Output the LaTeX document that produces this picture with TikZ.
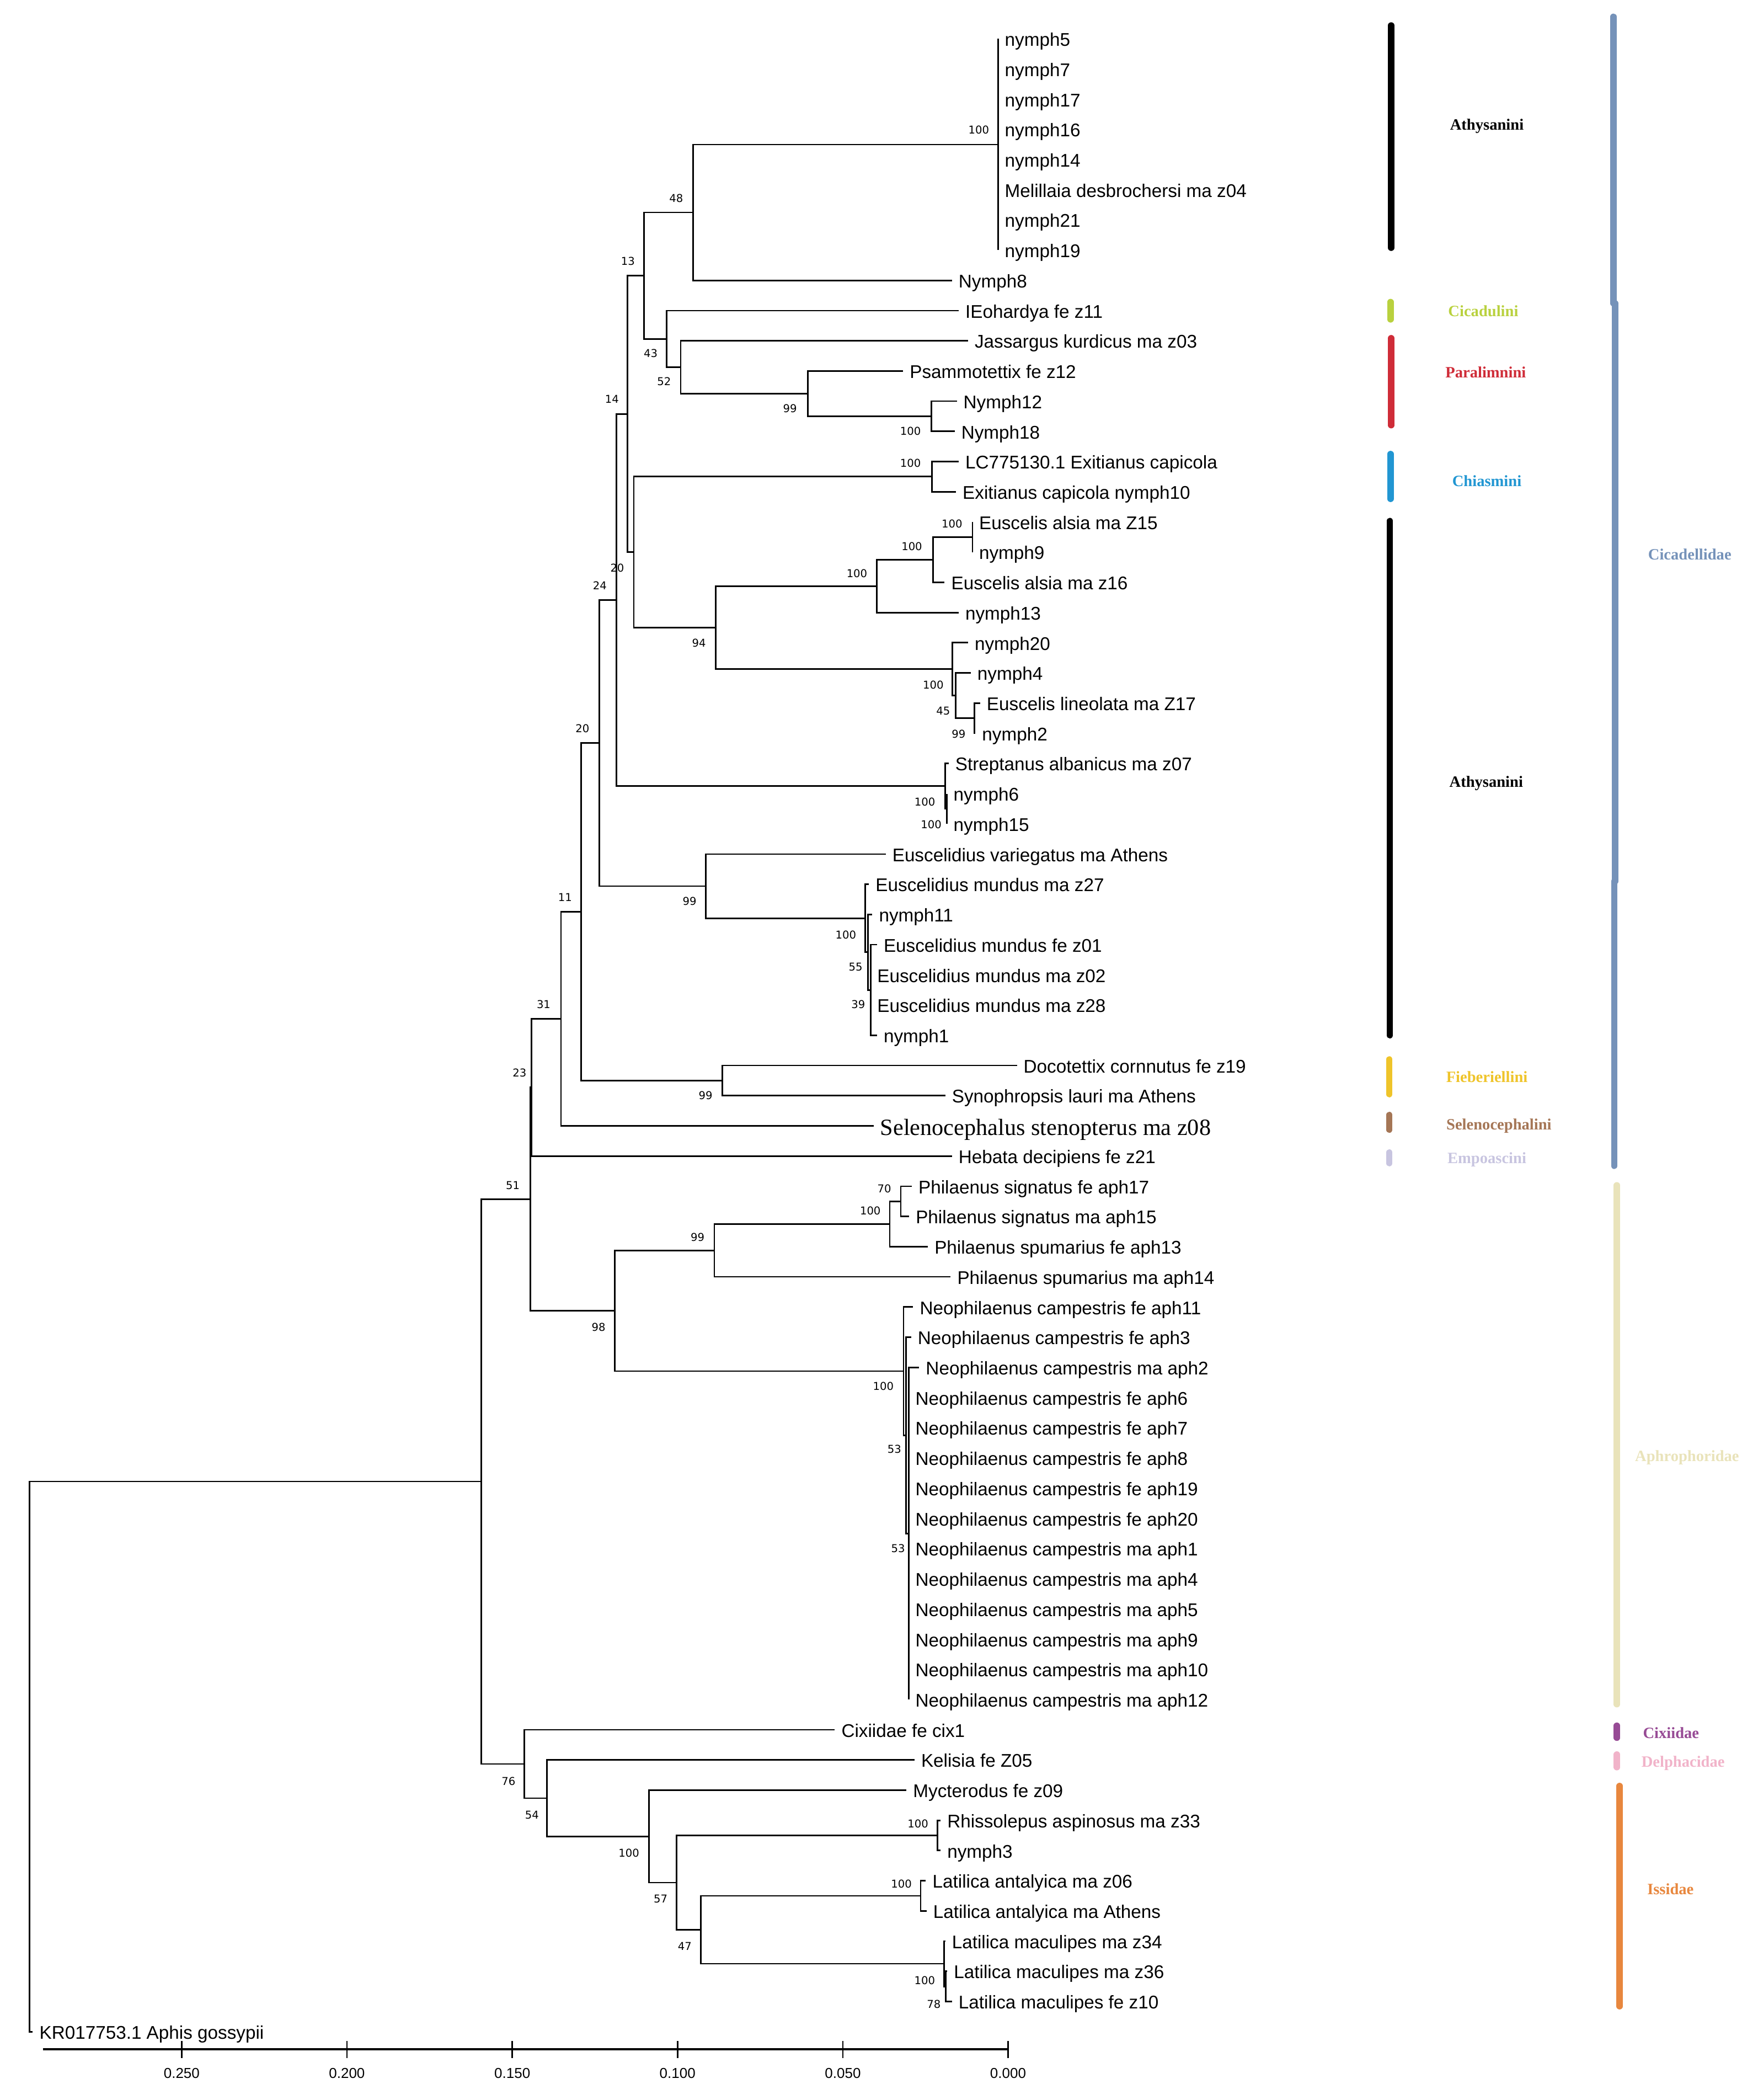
\documentclass[tikz,border=0pt]{standalone}
\usepackage{fontspec}
\setmainfont{Liberation Sans}
\newfontfamily\timesface{Liberation Serif}
\newfontfamily\megaface{DejaVu Sans}
\usepackage{tikz}

\definecolor{cicadulinicol}{HTML}{B9D13E}
\definecolor{paralimninicol}{HTML}{CF2C38}
\definecolor{chiasminicol}{HTML}{2196D2}
\definecolor{fiebericol}{HTML}{EFC42A}
\definecolor{selenocol}{HTML}{A57656}
\definecolor{empoascol}{HTML}{C8C5E0}
\definecolor{cicadellcol}{HTML}{7592B9}
\definecolor{aphrocol}{HTML}{E9E3BA}
\definecolor{cixiicol}{HTML}{974B95}
\definecolor{delphcol}{HTML}{F1B3C9}
\definecolor{issicol}{HTML}{E8873E}

\tikzstyle{leaf} = [anchor=west, inner xsep=0.1cm, inner ysep=0pt, outer sep=0pt, text height=6.7pt, text depth=0.5pt, font=\fontsize{7.8pt}{9pt}\selectfont]
\tikzstyle{bigleaf} = [leaf, text height=8.5pt, text depth=0.6pt, font=\timesface\fontsize{9.9pt}{11pt}\selectfont]
\tikzstyle{boot} = [inner sep=0pt, font=\megaface\fontsize{4.6pt}{5pt}\selectfont]
\tikzstyle{branch} = [line width=0.65pt]
\tikzstyle{scaleline} = [line width=0.95pt]
\tikzstyle{scaletick} = [line width=0.6pt]
\tikzstyle{ticklabel} = [inner sep=0pt, font=\fontsize{6.1pt}{7pt}\selectfont]
\tikzstyle{bar} = [line width=2.7pt, line cap=round]
\tikzstyle{taxon} = [inner sep=0pt, font=\timesface\bfseries\fontsize{6.7pt}{8pt}\selectfont]

\begin{document}
\begin{tikzpicture}[x=0.02cm, y=-0.02cm]

    \useasboundingbox (0,0) rectangle (1301,1568);

    % Internal nodes
    \coordinate (root) at (22,1311.6);
    \coordinate (ingroup) at (359.5,1106.2);
    \coordinate (n51) at (396,895.33);
    \coordinate (n23) at (397,811.95);
    \coordinate (n31) at (419,760.73);
    \coordinate (n11) at (434,680.83);
    \coordinate (n20b) at (447.6,554.85);
    \coordinate (n24) at (460.5,448.02);
    \coordinate (n14) at (468.7,309.05);
    \coordinate (n13) at (481,205.84);
    \coordinate (n48) at (517.5,158.64);
    \coordinate (n100a) at (745.5,107.91);
    \coordinate (n43) at (498,253.05);
    \coordinate (n52) at (508.4,274.18);
    \coordinate (n99a) at (603.3,293.91);
    \coordinate (n100b) at (695.5,310.82);
    \coordinate (n20a) at (473.4,412.27);
    \coordinate (n100c) at (696,355.9);
    \coordinate (n94) at (534.5,468.63);
    \coordinate (n100g) at (654.8,437.63);
    \coordinate (n100f) at (697,417.9);
    \coordinate (n100e) at (726.3,400.99);
    \coordinate (n100h) at (711.4,499.63);
    \coordinate (n45) at (713.7,519.36);
    \coordinate (n99b) at (727.8,536.27);
    \coordinate (n100i) at (706,586.99);
    \coordinate (n100j) at (707.2,603.9);
    \coordinate (n99c) at (527,661.67);
    \coordinate (n100k) at (646.1,685.63);
    \coordinate (n55) at (648.2,710.99);
    \coordinate (n39) at (650.2,739.17);
    \coordinate (n99d) at (539.5,806.81);
    \coordinate (n98) at (459,978.72);
    \coordinate (n99e) at (533.5,933.63);
    \coordinate (n100l) at (664.5,913.9);
    \coordinate (n70) at (672.8,896.99);
    \coordinate (n100m) at (674.8,1023.8);
    \coordinate (n53a) at (676.6,1071.71);
    \coordinate (n53b) at (678.7,1144.98);
    \coordinate (n76) at (391.6,1317.06);
    \coordinate (n54) at (408.5,1342.6);
    \coordinate (n100n) at (484.7,1371.14);
    \coordinate (n57) at (505.4,1405.66);
    \coordinate (n47) at (523.4,1440.89);
    \coordinate (n100o) at (700.1,1370.43);
    \coordinate (n100p) at (687.6,1415.52);
    \coordinate (n100q) at (705.1,1466.25);
    \coordinate (n78) at (706.4,1483.16);

    % Leaves
    \node (nymph5) [leaf] at (745.5,29.00) {nymph5};
    \node (nymph7) [leaf] at (745.5,51.55) {nymph7};
    \node (nymph17) [leaf] at (745.5,74.09) {nymph17};
    \node (nymph16) [leaf] at (745.5,96.64) {nymph16};
    \node (nymph14) [leaf] at (745.5,119.18) {nymph14};
    \node (melillaia) [leaf] at (745.5,141.73) {Melillaia desbrochersi ma z04};
    \node (nymph21) [leaf] at (745.5,164.27) {nymph21};
    \node (nymph19) [leaf] at (745.5,186.82) {nymph19};
    \node (nymph8) [leaf] at (711,209.36) {Nymph8};
    \node (eohardya) [leaf] at (716,231.91) {IEohardya fe z11};
    \node (jassargus) [leaf] at (723,254.45) {Jassargus kurdicus ma z03};
    \node (psammotettix) [leaf] at (674.5,277.00) {Psammotettix fe z12};
    \node (nymph12) [leaf] at (714.6,299.54) {Nymph12};
    \node (nymph18) [leaf] at (713,322.09) {Nymph18};
    \node (lc775) [leaf] at (716,344.63) {LC775130.1 Exitianus capicola};
    \node (exitianus) [leaf] at (714,367.18) {Exitianus capicola nymph10};
    \node (alsiaZ15) [leaf] at (726.3,389.72) {Euscelis alsia ma Z15};
    \node (nymph9) [leaf] at (726.3,412.27) {nymph9};
    \node (alsiaz16) [leaf] at (705.5,434.81) {Euscelis alsia ma z16};
    \node (nymph13) [leaf] at (716,457.36) {nymph13};
    \node (nymph20) [leaf] at (723,479.90) {nymph20};
    \node (nymph4) [leaf] at (725,502.45) {nymph4};
    \node (lineolata) [leaf] at (732,524.99) {Euscelis lineolata ma Z17};
    \node (nymph2) [leaf] at (728.5,547.54) {nymph2};
    \node (streptanus) [leaf] at (708.5,570.08) {Streptanus albanicus ma z07};
    \node (nymph6) [leaf] at (707.2,592.63) {nymph6};
    \node (nymph15) [leaf] at (707.2,615.17) {nymph15};
    \node (variegatus) [leaf] at (661.5,637.72) {Euscelidius variegatus ma Athens};
    \node (mundus27) [leaf] at (649,660.26) {Euscelidius mundus ma z27};
    \node (nymph11) [leaf] at (651.5,682.81) {nymph11};
    \node (mundus01) [leaf] at (655,705.35) {Euscelidius mundus fe z01};
    \node (mundus02) [leaf] at (650.2,727.90) {Euscelidius mundus ma z02};
    \node (mundus28) [leaf] at (650.2,750.44) {Euscelidius mundus ma z28};
    \node (nymph1) [leaf] at (655,772.99) {nymph1};
    \node (docotettix) [leaf] at (759.5,795.53) {Docotettix cornnutus fe z19};
    \node (synophropsis) [leaf] at (706,818.08) {Synophropsis lauri ma Athens};
    \node (seleno) [bigleaf] at (652.5,840.62) {Selenocephalus stenopterus ma z08};
    \node (hebata) [leaf] at (711,863.17) {Hebata decipiens fe z21};
    \node (aph17) [leaf] at (681,885.71) {Philaenus signatus fe aph17};
    \node (aph15) [leaf] at (679,908.26) {Philaenus signatus ma aph15};
    \node (aph13) [leaf] at (693,930.80) {Philaenus spumarius fe aph13};
    \node (aph14) [leaf] at (710,953.35) {Philaenus spumarius ma aph14};
    \node (aph11) [leaf] at (682,975.89) {Neophilaenus campestris fe aph11};
    \node (aph3) [leaf] at (680.5,998.44) {Neophilaenus campestris fe aph3};
    \node (aph2) [leaf] at (686.5,1020.98) {Neophilaenus campestris ma aph2};
    \node (aph6) [leaf] at (678.7,1043.53) {Neophilaenus campestris fe aph6};
    \node (aph7) [leaf] at (678.7,1066.07) {Neophilaenus campestris fe aph7};
    \node (aph8) [leaf] at (678.7,1088.62) {Neophilaenus campestris fe aph8};
    \node (aph19) [leaf] at (678.7,1111.16) {Neophilaenus campestris fe aph19};
    \node (aph20) [leaf] at (678.7,1133.71) {Neophilaenus campestris fe aph20};
    \node (aph1) [leaf] at (678.7,1156.25) {Neophilaenus campestris ma aph1};
    \node (aph4) [leaf] at (678.7,1178.80) {Neophilaenus campestris ma aph4};
    \node (aph5) [leaf] at (678.7,1201.34) {Neophilaenus campestris ma aph5};
    \node (aph9) [leaf] at (678.7,1223.89) {Neophilaenus campestris ma aph9};
    \node (aph10) [leaf] at (678.7,1246.43) {Neophilaenus campestris ma aph10};
    \node (aph12) [leaf] at (678.7,1268.98) {Neophilaenus campestris ma aph12};
    \node (cixiidae) [leaf] at (623.5,1291.52) {Cixiidae fe cix1};
    \node (kelisia) [leaf] at (683,1314.07) {Kelisia fe Z05};
    \node (mycterodus) [leaf] at (677,1336.61) {Mycterodus fe z09};
    \node (rhissolepus) [leaf] at (702.5,1359.16) {Rhissolepus aspinosus ma z33};
    \node (nymph3) [leaf] at (702.5,1381.70) {nymph3};
    \node (antalyica06) [leaf] at (691.5,1404.25) {Latilica antalyica ma z06};
    \node (antalyicaAth) [leaf] at (692,1426.79) {Latilica antalyica ma Athens};
    \node (maculipes34) [leaf] at (706,1449.34) {Latilica maculipes ma z34};
    \node (maculipes36) [leaf] at (707.5,1471.88) {Latilica maculipes ma z36};
    \node (maculipes10) [leaf] at (711,1494.43) {Latilica maculipes fe z10};
    \node (aphis) [leaf] at (24.5,1516.97) {KR017753.1 Aphis gossypii};

    % Branches
    \draw [branch] (root) |- (ingroup) (root) |- (aphis.west);
    \draw [branch] (ingroup) |- (n51) (ingroup) |- (n76);
    \draw [branch] (n51) |- (n23) (n51) |- (n98);
    \draw [branch] (n23) |- (n31) (n23) |- (hebata.west);
    \draw [branch] (n31) |- (n11) (n31) |- (seleno.west);
    \draw [branch] (n11) |- (n20b) (n11) |- (n99d);
    \draw [branch] (n20b) |- (n24) (n20b) |- (n99c);
    \draw [branch] (n24) |- (n14) (n24) |- (n100i);
    \draw [branch] (n14) |- (n13) (n14) |- (n20a);
    \draw [branch] (n13) |- (n48) (n13) |- (n43);
    \draw [branch] (n48) |- (n100a) (n48) |- (nymph8.west);
    \draw [branch] (n100a) |- (nymph5.west) (n100a) |- (nymph19.west);
    \draw [branch] (n43) |- (eohardya.west) (n43) |- (n52);
    \draw [branch] (n52) |- (jassargus.west) (n52) |- (n99a);
    \draw [branch] (n99a) |- (psammotettix.west) (n99a) |- (n100b);
    \draw [branch] (n100b) |- (nymph12.west) (n100b) |- (nymph18.west);
    \draw [branch] (n20a) |- (n100c) (n20a) |- (n94);
    \draw [branch] (n100c) |- (lc775.west) (n100c) |- (exitianus.west);
    \draw [branch] (n94) |- (n100g) (n94) |- (n100h);
    \draw [branch] (n100g) |- (n100f) (n100g) |- (nymph13.west);
    \draw [branch] (n100f) |- (n100e) (n100f) |- (alsiaz16.west);
    \draw [branch] (n100e) |- (alsiaZ15.west) (n100e) |- (nymph9.west);
    \draw [branch] (n100h) |- (nymph20.west) (n100h) |- (n45);
    \draw [branch] (n45) |- (nymph4.west) (n45) |- (n99b);
    \draw [branch] (n99b) |- (lineolata.west) (n99b) |- (nymph2.west);
    \draw [branch] (n100i) |- (streptanus.west) (n100i) |- (n100j);
    \draw [branch] (n100j) |- (nymph6.west) (n100j) |- (nymph15.west);
    \draw [branch] (n99c) |- (variegatus.west) (n99c) |- (n100k);
    \draw [branch] (n100k) |- (mundus27.west) (n100k) |- (n55);
    \draw [branch] (n55) |- (nymph11.west) (n55) |- (n39);
    \draw [branch] (n39) |- (mundus01.west) (n39) |- (nymph1.west);
    \draw [branch] (n99d) |- (docotettix.west) (n99d) |- (synophropsis.west);
    \draw [branch] (n98) |- (n99e) (n98) |- (n100m);
    \draw [branch] (n99e) |- (n100l) (n99e) |- (aph14.west);
    \draw [branch] (n100l) |- (n70) (n100l) |- (aph13.west);
    \draw [branch] (n70) |- (aph17.west) (n70) |- (aph15.west);
    \draw [branch] (n100m) |- (aph11.west) (n100m) |- (n53a);
    \draw [branch] (n53a) |- (aph3.west) (n53a) |- (n53b);
    \draw [branch] (n53b) |- (aph2.west) (n53b) |- (aph12.west);
    \draw [branch] (n76) |- (cixiidae.west) (n76) |- (n54);
    \draw [branch] (n54) |- (kelisia.west) (n54) |- (n100n);
    \draw [branch] (n100n) |- (mycterodus.west) (n100n) |- (n57);
    \draw [branch] (n57) |- (n100o) (n57) |- (n47);
    \draw [branch] (n100o) |- (rhissolepus.west) (n100o) |- (nymph3.west);
    \draw [branch] (n47) |- (n100p) (n47) |- (n100q);
    \draw [branch] (n100p) |- (antalyica06.west) (n100p) |- (antalyicaAth.west);
    \draw [branch] (n100q) |- (maculipes34.west) (n100q) |- (n78);
    \draw [branch] (n78) |- (maculipes36.west) (n78) |- (maculipes10.west);

    % Bootstrap values
    \node (bs100a) [boot] at (731,97) {100};
    \node (bs48) [boot] at (505,148) {48};
    \node (bs13) [boot] at (469,195) {13};
    \node (bs43) [boot] at (486,264) {43};
    \node (bs52) [boot] at (496,285) {52};
    \node (bs99a) [boot] at (590,305) {99};
    \node (bs100b) [boot] at (680,322) {100};
    \node (bs14) [boot] at (457,298) {14};
    \node (bs100c) [boot] at (680,346) {100};
    \node (bs100e) [boot] at (711,391) {100};
    \node (bs100f) [boot] at (681,408) {100};
    \node (bs100g) [boot] at (640,428) {100};
    \node (bs20a) [boot] at (461,424) {20};
    \node (bs94) [boot] at (522,480) {94};
    \node (bs100h) [boot] at (697,511.5) {100};
    \node (bs45) [boot] at (704.4,530.7) {45};
    \node (bs99b) [boot] at (716,548) {99};
    \node (bs24) [boot] at (448,437) {24};
    \node (bs100i) [boot] at (690.7,598.8) {100};
    \node (bs100j) [boot] at (695.5,615.5) {100};
    \node (bs20b) [boot] at (435,544) {20};
    \node (bs99c) [boot] at (515,673) {99};
    \node (bs100k) [boot] at (631.7,697.9) {100};
    \node (bs55) [boot] at (639,722) {55};
    \node (bs39) [boot] at (641,750) {39};
    \node (bs11) [boot] at (422,670) {11};
    \node (bs99d) [boot] at (527,818) {99};
    \node (bs31) [boot] at (406,750) {31};
    \node (bs23) [boot] at (388,801) {23};
    \node (bs51) [boot] at (383,885) {51};
    \node (bs70) [boot] at (660.4,887.5) {70};
    \node (bs100l) [boot] at (650,904) {100};
    \node (bs99e) [boot] at (521,924) {99};
    \node (bs98) [boot] at (447,991) {98};
    \node (bs100m) [boot] at (659.7,1035) {100};
    \node (bs53a) [boot] at (668,1082) {53};
    \node (bs53b) [boot] at (670.7,1156) {53};
    \node (bs76) [boot] at (379.8,1330) {76};
    \node (bs54) [boot] at (397.3,1355) {54};
    \node (bs100n) [boot] at (469.7,1383.4) {100};
    \node (bs57) [boot] at (493.4,1417.8) {57};
    \node (bs47) [boot] at (511.4,1453) {47};
    \node (bs100o) [boot] at (685.6,1361.7) {100};
    \node (bs100p) [boot] at (673.2,1406.6) {100};
    \node (bs100q) [boot] at (690.6,1478.7) {100};
    \node (bs78) [boot] at (697.4,1496.3) {78};

    % Scale
    \draw [scaleline] (32,1530) -- (752.9,1530);
    \draw [scaletick] (135.7,1524) -- (135.7,1536.5);
    \draw [scaletick] (259.1,1524) -- (259.1,1536.5);
    \draw [scaletick] (382.6,1524) -- (382.6,1536.5);
    \draw [scaletick] (506.0,1524) -- (506.0,1536.5);
    \draw [scaletick] (629.5,1524) -- (629.5,1536.5);
    \draw [scaletick] (752.9,1524) -- (752.9,1536.5);
    \node (t250) [ticklabel] at (135.7,1548) {0.250};
    \node (t200) [ticklabel] at (259.1,1548) {0.200};
    \node (t150) [ticklabel] at (382.6,1548) {0.150};
    \node (t100) [ticklabel] at (506.0,1548) {0.100};
    \node (t050) [ticklabel] at (629.5,1548) {0.050};
    \node (t000) [ticklabel] at (752.9,1548) {0.000};

    % Tribe bars
    \draw [bar, black] (1039,19) -- (1039,185);
    \draw [bar, cicadulinicol] (1038.5,225.5) -- (1038.5,238.5);
    \draw [bar, paralimninicol] (1039,252.5) -- (1039,317.5);
    \draw [bar, chiasminicol] (1038.5,339) -- (1038.5,372.5);
    \draw [bar, black] (1038,389) -- (1038,773);
    \draw [bar, fiebericol] (1037.6,791) -- (1037.6,817);
    \draw [bar, selenocol] (1037.6,832.5) -- (1037.6,843.5);
    \draw [bar, empoascol] (1037.6,860.5) -- (1037.6,868.5);

    % Family bars
    \draw [bar, cicadellcol] (1205,12.5) -- (1205,226.5);
    \draw [bar, cicadellcol] (1206.3,226.5) -- (1206.3,658);
    \draw [bar, cicadellcol] (1205.6,658) -- (1205.6,870.5);
    \draw [bar, aphrocol] (1207.6,885) -- (1207.6,1272.5);
    \draw [bar, cixiicol] (1207.6,1288.5) -- (1207.6,1297.5);
    \draw [bar, delphcol] (1207.6,1310) -- (1207.6,1319.5);
    \draw [bar, issicol] (1209.6,1333.5) -- (1209.6,1498);

    % Labels
    \node (athy1) [taxon, text=black] at (1110.5,94.4) {Athysanini};
    \node (cicadulini) [taxon, text=cicadulinicol] at (1107.8,232.1) {Cicadulini};
    \node (paralimnini) [taxon, text=paralimninicol] at (1109.6,278) {Paralimnini};
    \node (chiasmini) [taxon, text=chiasminicol] at (1110.5,359.2) {Chiasmini};
    \node (athy2) [taxon, text=black] at (1110,585) {Athysanini};
    \node (fieberiellini) [taxon, text=fiebericol] at (1110.5,803.9) {Fieberiellini};
    \node (selenocephalini) [taxon, text=selenocol] at (1119.5,840.7) {Selenocephalini};
    \node (empoascini) [taxon, text=empoascol] at (1110.5,866) {Empoascini};
    \node (cicadellidae) [taxon, text=cicadellcol] at (1262,414) {Cicadellidae};
    \node (aphrophoridae) [taxon, text=aphrocol] at (1260,1088.4) {Aphrophoridae};
    \node (cixiidaefam) [taxon, text=cixiicol] at (1248,1294) {Cixiidae};
    \node (delphacidae) [taxon, text=delphcol] at (1257,1316.5) {Delphacidae};
    \node (issidae) [taxon, text=issicol] at (1247.6,1410.3) {Issidae};

\end{tikzpicture}
\end{document}
